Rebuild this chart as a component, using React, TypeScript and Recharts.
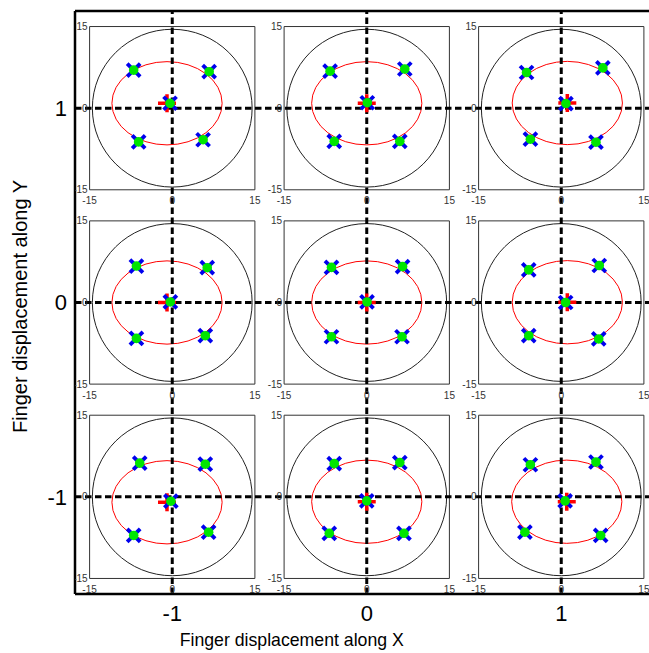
import { ScatterChart, Scatter, XAxis, YAxis, ReferenceLine, ReferenceArea } from 'recharts';

const FONT = '"Liberation Sans", Arial, sans-serif';

// outer grid: finger displacement (mm)
const gridTicks = [-1, 0, 1];
const panelCentersX = [-1, 0, 1, -1, 0, 1, -1, 0, 1];
const panelCentersY = [1, 1, 1, 0, 0, 0, -1, -1, -1];

// inner panels, in panel units (-15..15)
const panelTicks = [-15, 0, 15];
const circleRadius = 14.5;
const ellipseRadii: [number, number] = [10, 7.65];

const cornerPoints: [number, number][][] = [
  [[-7.0, 7.0], [6.7, 6.7], [-6.1, -6.2], [5.6, -5.8]],
  [[-6.65, 6.8], [6.9, 7.2], [-5.9, -6.1], [6.0, -6.1]],
  [[-6.3, 6.55], [7.55, 7.4], [-5.6, -5.7], [6.3, -6.25]],
  [[-6.5, 6.7], [6.35, 6.4], [-6.5, -6.6], [6.0, -6.1]],
  [[-6.4, 6.45], [6.5, 6.6], [-6.4, -6.3], [6.4, -6.3]],
  [[-5.9, 6.0], [6.9, 6.8], [-5.9, -6.1], [6.8, -6.7]],
  [[-5.9, 6.2], [6.0, 6.0], [-7.0, -7.1], [6.6, -6.5]],
  [[-5.9, 6.1], [6.0, 6.3], [-6.8, -6.7], [6.75, -6.7]],
  [[-5.6, 5.9], [6.3, 6.4], [-6.6, -6.5], [7.15, -7.1]],
];

const centerPoints: [number, number][] = [
  [-0.4, 0.9], [0.1, 1.0], [0.85, 0.85],
  [-0.35, 0.1], [0.05, 0.1], [0.8, 0],
  [-0.25, -0.8], [0, -0.75], [0.7, -0.75],
];

const ellipseCenters: [number, number][] = [
  [-0.95, 0.9], [0, 0.9], [1.1, 0.95],
  [-0.95, 0], [0, 0], [1.1, 0.05],
  [-0.95, -1.0], [0, -0.9], [1.0, -0.9],
];

// panel unit -> outer unit
const KX = 0.02833;
const KY = 0.028;
const toX = (i: number, lx: number) => panelCentersX[i] + lx * KX;
const toY = (i: number, ly: number) => panelCentersY[i] + ly * KY;

const markerData = cornerPoints.flatMap((pts, i) =>
  [...pts, centerPoints[i]].map(([lx, ly]) => ({ x: toX(i, lx), y: toY(i, ly) }))
);
const plusData = ellipseCenters.map(([lx, ly], i) => ({ x: toX(i, lx), y: toY(i, ly) }));
const labelData = panelCentersX.flatMap((_, i) => [
  ...panelTicks.map((t) => ({ x: toX(i, -15), y: toY(i, t), text: String(t), side: 'left' })),
  ...panelTicks.map((t) => ({ x: toX(i, t), y: toY(i, -15), text: String(t), side: 'bottom' })),
]);

const ellipseShape = (stroke: string) => (p: any) => (
  <ellipse
    cx={p.x + p.width / 2}
    cy={p.y + p.height / 2}
    rx={Math.abs(p.width) / 2}
    ry={Math.abs(p.height) / 2}
    fill="none"
    stroke={stroke}
    strokeWidth={1}
  />
);

const PlusMark = (p: any) => (
  <g stroke="#ff0000" strokeWidth={3.5}>
    <line x1={p.cx - 9} y1={p.cy} x2={p.cx + 9} y2={p.cy} />
    <line x1={p.cx} y1={p.cy - 9} x2={p.cx} y2={p.cy + 9} />
  </g>
);

const CrossDot = (p: any) => (
  <g>
    <g stroke="#0000ee" strokeWidth={3.8}>
      <line x1={p.cx - 6.5} y1={p.cy - 6.5} x2={p.cx + 6.5} y2={p.cy + 6.5} />
      <line x1={p.cx - 6.5} y1={p.cy + 6.5} x2={p.cx + 6.5} y2={p.cy - 6.5} />
    </g>
    <circle cx={p.cx} cy={p.cy} r={4.8} fill="#00e600" />
  </g>
);

const PanelLabel = (p: any) => {
  const left = p.payload.side === 'left';
  return (
    <text
      x={left ? p.cx - 2 : p.cx}
      y={left ? p.cy + 3.5 : p.cy + 14.5}
      textAnchor={left ? 'end' : 'middle'}
      fontSize={10}
      fontFamily={FONT}
      fill="#333"
    >
      {p.payload.text}
    </text>
  );
};

export default function App() {
  return (
    <div style={{ position: 'fixed', left: 0, top: 0, width: 649, height: 653, overflow: 'hidden', background: '#fff' }}>
      <ScatterChart width={670} height={653} margin={{ top: 11, right: 11.5, bottom: 0, left: 0 }} style={{ fontFamily: FONT }}>
        <XAxis
          type="number"
          dataKey="x"
          domain={[-1.5, 1.5]}
          allowDataOverflow
          ticks={gridTicks}
          height={59}
          tickLine={false}
          tickMargin={5}
          axisLine={{ stroke: '#000', strokeWidth: 2.5 }}
          tick={{ fill: '#000', fontSize: 22, fontFamily: FONT }}
          label={{ value: 'Finger displacement along X', position: 'insideBottom', offset: 7, dx: -75, style: { fill: '#000', fontSize: 17.7, fontFamily: FONT } }}
        />
        <YAxis
          type="number"
          dataKey="y"
          domain={[-1.5, 1.5]}
          allowDataOverflow
          ticks={gridTicks}
          width={75}
          tickLine={false}
          axisLine={{ stroke: '#000', strokeWidth: 2.5 }}
          tick={{ fill: '#000', fontSize: 22, fontFamily: FONT }}
          label={{ value: 'Finger displacement along Y', angle: -90, position: 'center', dx: -18, dy: 4, style: { fill: '#000', fontSize: 20, fontFamily: FONT } }}
        />
        <ReferenceLine y={1.5} stroke="#000" strokeWidth={2.5} />

        {panelCentersX.map((_, i) => (
          <ReferenceArea
            key={`box${i}`}
            x1={toX(i, -15)}
            x2={toX(i, 15)}
            y1={toY(i, -15)}
            y2={toY(i, 15)}
            fill="none"
            fillOpacity={0}
            stroke="#333"
            strokeWidth={1}
          />
        ))}
        {panelCentersX.map((_, i) => (
          <ReferenceArea
            key={`circle${i}`}
            x1={toX(i, -circleRadius)}
            x2={toX(i, circleRadius)}
            y1={toY(i, -circleRadius)}
            y2={toY(i, circleRadius)}
            shape={ellipseShape('#222')}
          />
        ))}
        {ellipseCenters.map(([lx, ly], i) => (
          <ReferenceArea
            key={`ell${i}`}
            x1={toX(i, lx - ellipseRadii[0])}
            x2={toX(i, lx + ellipseRadii[0])}
            y1={toY(i, ly - ellipseRadii[1])}
            y2={toY(i, ly + ellipseRadii[1])}
            shape={ellipseShape('#ff0000')}
          />
        ))}

        {gridTicks.map((t) => (
          <ReferenceLine key={`vx${t}`} x={t} stroke="#000" strokeWidth={3} strokeDasharray="6.5 3.5" />
        ))}
        {gridTicks.map((t) => (
          <ReferenceLine key={`hy${t}`} y={t} stroke="#000" strokeWidth={3} strokeDasharray="6.5 3.5" />
        ))}

        <Scatter data={labelData} shape={PanelLabel} isAnimationActive={false} />
        <Scatter data={plusData} shape={PlusMark} isAnimationActive={false} />
        <Scatter data={markerData} shape={CrossDot} isAnimationActive={false} />
      </ScatterChart>
    </div>
  );
}
